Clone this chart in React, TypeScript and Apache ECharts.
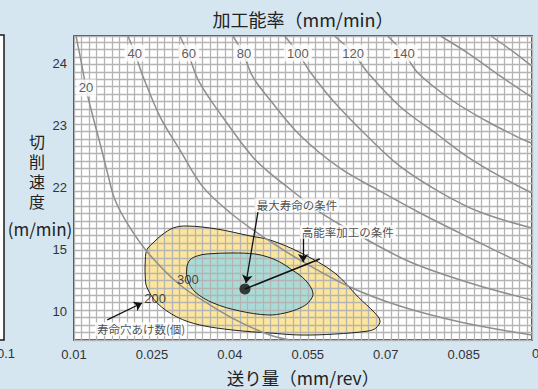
import React, { useEffect, useRef } from 'react';
import * as echarts from 'echarts';

// ---- axes ----
const xTickValues = [0.01, 0.025, 0.04, 0.055, 0.07, 0.085];
const xTickLabels = ['0.01', '0.025', '0.04', '0.055', '0.07', '0.085'];
const yTickSpeeds = [10, 15, 22, 23, 24];
const yTickLabels = ['10', '15', '22', '23', '24'];

// ---- iso lines of machining rate (mm/min): [feed mm/rev, speed m/min] ----
const isoLevels = [20, 40, 60, 80, 100, 120, 140, 160, 180];
const iso20 = [[0.0104, 24.43], [0.0115, 23.97], [0.0125, 23.52], [0.0137, 23.12], [0.015, 22.71], [0.0164, 22.25], [0.0179, 20.6], [0.0208, 17.45], [0.0246, 14.58], [0.0304, 12.17], [0.0362, 10.56], [0.0419, 9.2], [0.0477, 8.15], [0.0516, 7.75]];
const iso40 = [[0.0204, 24.43], [0.0217, 24.16], [0.0233, 23.78], [0.0266, 23.13], [0.0304, 22.6], [0.0348, 22.01], [0.0406, 18.91], [0.0473, 16.1], [0.0541, 14.02], [0.0631, 12.01], [0.0727, 10.48], [0.0843, 9.2], [0.0981, 8.15]];
const iso60 = [[0.0304, 24.43], [0.0319, 24.16], [0.0342, 23.68], [0.0394, 23.04], [0.0444, 22.49], [0.0477, 22.23], [0.0518, 21.72], [0.0573, 19.24], [0.0658, 16.32], [0.0747, 14.02], [0.0862, 12.33], [0.0981, 10.96]];
const iso80 = [[0.0406, 24.43], [0.0425, 24.16], [0.0444, 23.78], [0.0477, 23.41], [0.0535, 22.84], [0.0612, 22.31], [0.0685, 21.72], [0.0766, 19.13], [0.0862, 16.32], [0.0981, 13.53]];
const iso100 = [[0.0506, 24.43], [0.0531, 24.16], [0.0556, 23.84], [0.0602, 23.36], [0.0666, 22.81], [0.0729, 22.33], [0.0804, 21.49], [0.0881, 19.24], [0.0981, 17.45]];
const iso120 = [[0.0602, 24.43], [0.0637, 24.16], [0.0666, 23.84], [0.0729, 23.29], [0.0795, 22.88], [0.0858, 22.49], [0.0922, 22.17], [0.0981, 21.38]];
const iso140 = [[0.0704, 24.43], [0.0735, 24.16], [0.0762, 23.84], [0.0826, 23.41], [0.0891, 23.08], [0.0954, 22.81], [0.0981, 22.71]];
const iso160 = [[0.0806, 24.43], [0.0858, 24.16], [0.0922, 23.78], [0.0981, 23.45]];
const iso180 = [[0.0903, 24.43], [0.0949, 24.16], [0.0981, 23.95]];
const isoCurves = [iso20, iso40, iso60, iso80, iso100, iso120, iso140, iso160, iso180];
const isoLabelLevels = [20, 40, 60, 80, 100, 120, 140];
const isoLabelPos = [[0.0123, 23.6], [0.0217, 24.16], [0.0321, 24.16], [0.0427, 24.16], [0.0531, 24.16], [0.0637, 24.16], [0.0735, 24.16]];

// ---- tool-life contours (holes drilled) ----
const life200 = [[0.0237, 13.94], [0.024, 14.98], [0.0252, 15.76], [0.0269, 16.66], [0.0291, 17.45], [0.0317, 17.67], [0.0375, 17.33], [0.0439, 16.55], [0.0477, 16.1], [0.0537, 14.74], [0.0602, 13.13], [0.0647, 11.2], [0.0679, 9.92], [0.0689, 9.28], [0.0681, 8.71], [0.0666, 8.47], [0.0602, 8.23], [0.0537, 8.15], [0.0477, 8.31], [0.0406, 8.55], [0.0342, 8.96], [0.0298, 9.6], [0.026, 10.72], [0.024, 12.01], [0.0237, 12.97]];
const life300 = [[0.0317, 13.53], [0.0323, 14.18], [0.0337, 14.5], [0.0356, 14.66], [0.0406, 14.74], [0.0448, 14.66], [0.0473, 14.42], [0.0496, 14.02], [0.052, 13.37], [0.0545, 12.57], [0.056, 11.53], [0.0552, 10.8], [0.0535, 10.32], [0.0506, 9.92], [0.0473, 9.76], [0.0419, 10.08], [0.0368, 10.72], [0.0333, 11.61], [0.0319, 12.57]];
const lifeLabels = ['300', '200'];
const lifeLabelPos = [[0.0319, 12.57], [0.0256, 11.12]];

// ---- annotations ----
const maxLifePoint = [0.0429, 11.85];
const highRateEnd = [0.0573, 14.26];
const maxLifeArrow = [[0.0454, 19.24], [0.0431, 12.33]];
const highRateArrow = [[0.0541, 16.32], [0.0541, 14.02]];
const countArrow = [[0.0164, 9.36], [0.0231, 10.72]];
const noteTexts = ['最大寿命の条件', '高能率加工の条件', '寿命穴あけ数(個)'];
const notePos = [[0.0529, 20.03], [0.0627, 17.0], [0.0229, 8.63]];

// vertical axis title characters
const yTitleChars = ['切', '削', '速', '度'];

// broken speed scale: 10,15,22,23,24 equally spaced
function toAxisY(s: number): number {
  if (s <= 15) return (s - 10) / 5;
  if (s <= 22) return 1 + (s - 15) / 7;
  return 2 + (s - 22);
}
const tr = (p: number[]) => [p[0], toAxisY(p[1])];

const CJK = '"Noto Sans CJK JP", sans-serif';
const LAT = '"Liberation Sans", Arial, sans-serif';

export default function App() {
  const ref = useRef<HTMLDivElement>(null);
  useEffect(() => {
    if (!ref.current) return;
    const chart = echarts.init(ref.current, undefined, { renderer: 'svg' });
    const yCustom = yTickSpeeds.map(toAxisY);

    const polySeries = (pts: number[][], fill: string, stroke: string, z: number) => ({
      type: 'custom',
      xAxisIndex: 0,
      yAxisIndex: 0,
      z,
      silent: true,
      data: [[0.05, 1]],
      renderItem: (_p: any, api: any) => ({
        type: 'polygon',
        shape: { points: pts.map((p) => api.coord(tr(p))), smooth: 0.35 },
        style: { fill, stroke, lineWidth: 1 },
      }),
    });

    const option: any = {
      animation: false,
      backgroundColor: '#d5e6f1',
      grid: {
        left: 74, top: 36, width: 458, height: 304,
        show: true, backgroundColor: '#ffffff', borderColor: '#1a1a1a', borderWidth: 1.5,
      },
      xAxis: [
        {
          type: 'value', min: 0.01, max: 0.09814,
          axisLine: { show: false }, axisTick: { show: false }, splitLine: { show: false },
          axisLabel: {
            customValues: xTickValues, margin: 8, fontSize: 13, color: '#333', fontFamily: LAT,
            formatter: (v: number) => {
              const i = xTickValues.findIndex((t) => Math.abs(t - v) < 1e-6);
              return i >= 0 ? xTickLabels[i] : '';
            },
          },
        },
        {
          type: 'value', min: 0, max: 60.66, interval: 1, z: 2,
          axisLine: { show: false }, axisTick: { show: false }, axisLabel: { show: false },
          splitLine: { show: true, lineStyle: { color: '#b4b4b4', width: 1.3 } },
        },
      ],
      yAxis: [
        {
          type: 'value', min: -0.45, max: 4.434,
          axisLine: { show: false }, axisTick: { show: false }, splitLine: { show: false },
          axisLabel: {
            customValues: yCustom, margin: 7, fontSize: 13, color: '#333', fontFamily: LAT,
            formatter: (v: number) => {
              const i = yCustom.findIndex((t) => Math.abs(t - v) < 1e-6);
              return i >= 0 ? yTickLabels[i] : '';
            },
          },
        },
        {
          type: 'value', min: 0, max: 40.8, interval: 1, z: 2,
          axisLine: { show: false }, axisTick: { show: false }, axisLabel: { show: false },
          splitLine: { show: true, lineStyle: { color: '#b4b4b4', width: 1.3 } },
        },
      ],
      series: [
        polySeries(life200, '#fde69b', 'none', 1),
        polySeries(life300, '#aadcd7', 'none', 1),
        polySeries(life200, 'none', '#222', 3),
        polySeries(life300, 'none', '#222', 3),
        ...isoCurves.map((c, i) => ({
          type: 'line', name: 'iso' + isoLevels[i], z: 3, silent: true,
          xAxisIndex: 0, yAxisIndex: 0,
          data: c.map(tr), symbol: 'none', smooth: 0.35,
          lineStyle: { color: '#8f8f8f', width: 1.5 },
        })),
        {
          type: 'scatter', z: 5, silent: true, symbolSize: 1,
          itemStyle: { color: 'transparent' },
          data: isoLabelPos.map((p, i) => ({ value: tr(p), name: String(isoLabelLevels[i]) })),
          label: {
            show: true, position: 'inside', formatter: '{b}', fontSize: 13, color: '#333',
            fontFamily: LAT, backgroundColor: '#ffffff', padding: [2, 3],
          },
        },
        {
          type: 'scatter', z: 5, silent: true, symbolSize: 1,
          itemStyle: { color: 'transparent' },
          data: lifeLabelPos.map((p, i) => ({ value: tr(p), name: lifeLabels[i] })),
          label: { show: true, position: 'inside', formatter: '{b}', fontSize: 13, color: '#222', fontFamily: LAT },
        },
        {
          type: 'lines', coordinateSystem: 'cartesian2d', z: 6, silent: true,
          symbol: ['none', 'arrow'], symbolSize: [1, 8],
          lineStyle: { color: '#111', width: 1.3, opacity: 1 },
          data: [maxLifeArrow, highRateArrow, countArrow].map((a) => ({ coords: a.map(tr) })),
        },
        {
          type: 'lines', coordinateSystem: 'cartesian2d', z: 6, silent: true,
          symbol: ['none', 'none'],
          lineStyle: { color: '#111', width: 1.5, opacity: 1 },
          data: [{ coords: [tr(maxLifePoint), tr(highRateEnd)] }],
        },
        {
          type: 'scatter', z: 7, silent: true, symbolSize: 11,
          itemStyle: { color: '#111' },
          data: [tr(maxLifePoint)],
        },
        {
          type: 'scatter', z: 7, silent: true, symbolSize: 1,
          itemStyle: { color: 'transparent' },
          data: notePos.map((p, i) => ({ value: tr(p), name: noteTexts[i] })),
          label: {
            show: true, position: 'inside', formatter: '{b}', fontSize: 11.5, color: '#222',
            fontFamily: CJK, backgroundColor: '#ffffff', padding: [1, 2],
          },
        },
      ],
      graphic: [
        { type: 'rect', shape: { x: -3, y: 35, width: 7, height: 305 }, style: { fill: '#fff', stroke: '#1a1a1a', lineWidth: 1.5 } },
        { type: 'text', x: 6, y: 353, style: { text: '0.1', fontSize: 13, fill: '#333', fontFamily: LAT, textAlign: 'center', textVerticalAlign: 'middle' } },
        { type: 'text', x: 541, y: 353, style: { text: '0.1', fontSize: 13, fill: '#333', fontFamily: LAT, textAlign: 'center', textVerticalAlign: 'middle' } },
        { type: 'text', x: 303, y: 19, style: { text: '加工能率（mm/min）', fontSize: 18, fill: '#222', fontFamily: CJK, textAlign: 'center', textVerticalAlign: 'middle' } },
        { type: 'text', x: 303, y: 377, style: { text: '送り量（mm/rev）', fontSize: 17.5, fill: '#222', fontFamily: CJK, textAlign: 'center', textVerticalAlign: 'middle' } },
        ...yTitleChars.map((ch, i) => ({
          type: 'text', x: 37, y: 141 + i * 20,
          style: { text: ch, fontSize: 16, lineHeight: 18, fill: '#222', fontFamily: CJK, textAlign: 'center', textVerticalAlign: 'middle' },
        })),
        { type: 'text', x: 40, y: 228, style: { text: '(m/min)', fontSize: 17, fill: '#222', fontFamily: CJK, textAlign: 'center', textVerticalAlign: 'middle' } },
      ],
    };
    chart.setOption(option);
    return () => chart.dispose();
  }, []);
  return <div ref={ref} style={{ position: 'fixed', left: 0, top: 0, width: 538, height: 389 }} />;
}
